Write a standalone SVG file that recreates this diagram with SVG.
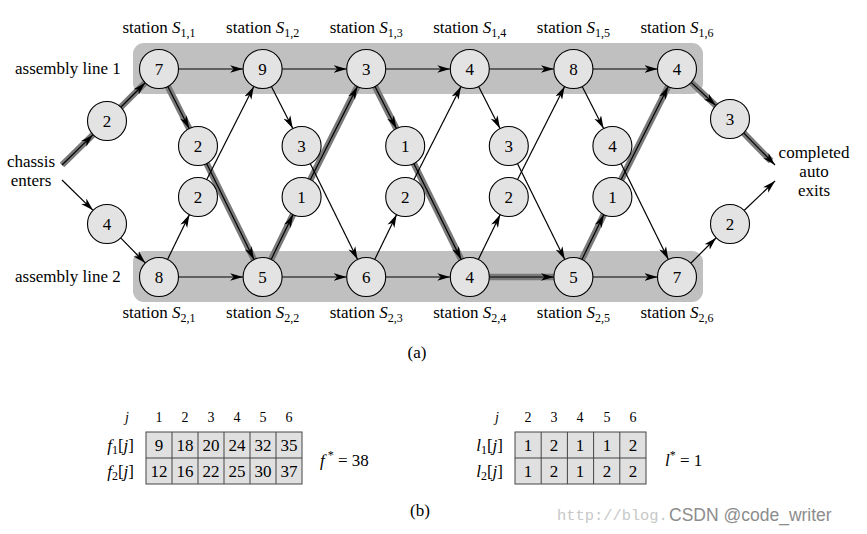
<svg xmlns="http://www.w3.org/2000/svg" width="867" height="534" viewBox="0 0 867 534" font-family="'Liberation Serif', 'Times New Roman', 'DejaVu Serif', serif">
<style>
text{font-family:'Liberation Serif','Times New Roman','DejaVu Serif',serif;fill:#000}
.lbl{font-size:17px}
.num{font-size:17px;text-anchor:middle}
.st{font-size:17px;text-anchor:middle}
.it{font-style:italic}
.band{fill:#c0c0c0}
.node circle{fill:#e3e3e3;stroke:#000;stroke-width:1.1}
.ar line{stroke:#000;stroke-width:1.2;marker-end:url(#ah)}
.hl{fill:none;stroke:#7a7a7a;stroke-width:6.5;stroke-linejoin:round}
.cell{fill:#e0e0e0;stroke:#444;stroke-width:1}
.hd{font-size:14px;text-anchor:middle}
</style>
<defs>
<marker id="ah" viewBox="-13 -4 13 8" markerWidth="13" markerHeight="8" refX="0" refY="0" orient="auto" markerUnits="userSpaceOnUse">
<path d="M0,0 L-13,-3.8 L-9.5,0 L-13,3.8 Z" fill="#000"/>
</marker>
</defs>
<rect width="867" height="534" fill="#fff"/>
<rect class="band" x="133" y="43" width="570" height="51" rx="11"/>
<rect class="band" x="133" y="251" width="570" height="51" rx="11"/>
<polyline class="hl" points="62,165 107,121 159,69 198,146 262.6,277 301.6,197 366.2,69 405.2,146 469.8,277 573.4,277 612.4,197 677,69 730,119 771,161"/>
<g id="connectors" class="ar">
<line x1="62" y1="165" x2="93.06" y2="134.63"/>
<line x1="62" y1="180" x2="93.06" y2="210.37"/>
<line x1="120.79" y1="107.21" x2="145.21" y2="82.79"/>
<line x1="120.66" y1="237.92" x2="145.34" y2="263.08"/>
<line x1="178.5" y1="69" x2="243.1" y2="69"/>
<line x1="282.1" y1="69" x2="346.7" y2="69"/>
<line x1="385.7" y1="69" x2="450.3" y2="69"/>
<line x1="489.3" y1="69" x2="553.9" y2="69"/>
<line x1="592.9" y1="69" x2="657.5" y2="69"/>
<line x1="178.5" y1="277" x2="243.1" y2="277"/>
<line x1="282.1" y1="277" x2="346.7" y2="277"/>
<line x1="385.7" y1="277" x2="450.3" y2="277"/>
<line x1="489.3" y1="277" x2="553.9" y2="277"/>
<line x1="592.9" y1="277" x2="657.5" y2="277"/>
<line x1="167.81" y1="86.4" x2="189.19" y2="128.6"/>
<line x1="206.62" y1="163.49" x2="253.98" y2="259.51"/>
<line x1="167.55" y1="259.47" x2="189.45" y2="214.53"/>
<line x1="206.79" y1="179.59" x2="253.81" y2="86.41"/>
<line x1="271.41" y1="86.4" x2="292.79" y2="128.6"/>
<line x1="310.22" y1="163.49" x2="357.58" y2="259.51"/>
<line x1="271.15" y1="259.47" x2="293.05" y2="214.53"/>
<line x1="310.39" y1="179.59" x2="357.41" y2="86.41"/>
<line x1="375.01" y1="86.4" x2="396.39" y2="128.6"/>
<line x1="413.82" y1="163.49" x2="461.18" y2="259.51"/>
<line x1="374.75" y1="259.47" x2="396.65" y2="214.53"/>
<line x1="413.99" y1="179.59" x2="461.01" y2="86.41"/>
<line x1="478.61" y1="86.4" x2="499.99" y2="128.6"/>
<line x1="517.42" y1="163.49" x2="564.78" y2="259.51"/>
<line x1="478.35" y1="259.47" x2="500.25" y2="214.53"/>
<line x1="517.59" y1="179.59" x2="564.61" y2="86.41"/>
<line x1="582.21" y1="86.4" x2="603.59" y2="128.6"/>
<line x1="621.02" y1="163.49" x2="668.38" y2="259.51"/>
<line x1="581.95" y1="259.47" x2="603.85" y2="214.53"/>
<line x1="621.19" y1="179.59" x2="668.21" y2="86.41"/>
<line x1="691.18" y1="82.38" x2="715.82" y2="105.62"/>
<line x1="743.64" y1="132.94" x2="775" y2="165"/>
<line x1="690.79" y1="263.21" x2="716.21" y2="237.79"/>
<line x1="744.1" y1="210.53" x2="775" y2="181"/>
</g>
<g id="e1" class="node"><circle cx="107" cy="121" r="19.5"/><text class="num" x="107" y="127">2</text></g>
<g id="e2" class="node"><circle cx="107" cy="224" r="19.5"/><text class="num" x="107" y="230">4</text></g>
<g id="s11" class="node"><circle cx="159" cy="69" r="19.5"/><text class="num" x="159" y="75">7</text></g>
<g id="s12" class="node"><circle cx="262.6" cy="69" r="19.5"/><text class="num" x="262.6" y="75">9</text></g>
<g id="s13" class="node"><circle cx="366.2" cy="69" r="19.5"/><text class="num" x="366.2" y="75">3</text></g>
<g id="s14" class="node"><circle cx="469.8" cy="69" r="19.5"/><text class="num" x="469.8" y="75">4</text></g>
<g id="s15" class="node"><circle cx="573.4" cy="69" r="19.5"/><text class="num" x="573.4" y="75">8</text></g>
<g id="s16" class="node"><circle cx="677" cy="69" r="19.5"/><text class="num" x="677" y="75">4</text></g>
<g id="s21" class="node"><circle cx="159" cy="277" r="19.5"/><text class="num" x="159" y="283">8</text></g>
<g id="s22" class="node"><circle cx="262.6" cy="277" r="19.5"/><text class="num" x="262.6" y="283">5</text></g>
<g id="s23" class="node"><circle cx="366.2" cy="277" r="19.5"/><text class="num" x="366.2" y="283">6</text></g>
<g id="s24" class="node"><circle cx="469.8" cy="277" r="19.5"/><text class="num" x="469.8" y="283">4</text></g>
<g id="s25" class="node"><circle cx="573.4" cy="277" r="19.5"/><text class="num" x="573.4" y="283">5</text></g>
<g id="s26" class="node"><circle cx="677" cy="277" r="19.5"/><text class="num" x="677" y="283">7</text></g>
<g id="t11" class="node"><circle cx="198" cy="146" r="19.5"/><text class="num" x="198" y="152">2</text></g>
<g id="t12" class="node"><circle cx="301.6" cy="146" r="19.5"/><text class="num" x="301.6" y="152">3</text></g>
<g id="t13" class="node"><circle cx="405.2" cy="146" r="19.5"/><text class="num" x="405.2" y="152">1</text></g>
<g id="t14" class="node"><circle cx="508.8" cy="146" r="19.5"/><text class="num" x="508.8" y="152">3</text></g>
<g id="t15" class="node"><circle cx="612.4" cy="146" r="19.5"/><text class="num" x="612.4" y="152">4</text></g>
<g id="t21" class="node"><circle cx="198" cy="197" r="19.5"/><text class="num" x="198" y="203">2</text></g>
<g id="t22" class="node"><circle cx="301.6" cy="197" r="19.5"/><text class="num" x="301.6" y="203">1</text></g>
<g id="t23" class="node"><circle cx="405.2" cy="197" r="19.5"/><text class="num" x="405.2" y="203">2</text></g>
<g id="t24" class="node"><circle cx="508.8" cy="197" r="19.5"/><text class="num" x="508.8" y="203">2</text></g>
<g id="t25" class="node"><circle cx="612.4" cy="197" r="19.5"/><text class="num" x="612.4" y="203">1</text></g>
<g id="x1" class="node"><circle cx="730" cy="119" r="19.5"/><text class="num" x="730" y="125">3</text></g>
<g id="x2" class="node"><circle cx="730" cy="224" r="19.5"/><text class="num" x="730" y="230">2</text></g>
<g id="labels">
<text class="st" x="159" y="33">station <tspan class="it">S</tspan><tspan font-size="12" dy="4">1,1</tspan></text>
<text class="st" x="262.6" y="33">station <tspan class="it">S</tspan><tspan font-size="12" dy="4">1,2</tspan></text>
<text class="st" x="366.2" y="33">station <tspan class="it">S</tspan><tspan font-size="12" dy="4">1,3</tspan></text>
<text class="st" x="469.8" y="33">station <tspan class="it">S</tspan><tspan font-size="12" dy="4">1,4</tspan></text>
<text class="st" x="573.4" y="33">station <tspan class="it">S</tspan><tspan font-size="12" dy="4">1,5</tspan></text>
<text class="st" x="677" y="33">station <tspan class="it">S</tspan><tspan font-size="12" dy="4">1,6</tspan></text>
<text class="st" x="159" y="318">station <tspan class="it">S</tspan><tspan font-size="12" dy="4">2,1</tspan></text>
<text class="st" x="262.6" y="318">station <tspan class="it">S</tspan><tspan font-size="12" dy="4">2,2</tspan></text>
<text class="st" x="366.2" y="318">station <tspan class="it">S</tspan><tspan font-size="12" dy="4">2,3</tspan></text>
<text class="st" x="469.8" y="318">station <tspan class="it">S</tspan><tspan font-size="12" dy="4">2,4</tspan></text>
<text class="st" x="573.4" y="318">station <tspan class="it">S</tspan><tspan font-size="12" dy="4">2,5</tspan></text>
<text class="st" x="677" y="318">station <tspan class="it">S</tspan><tspan font-size="12" dy="4">2,6</tspan></text>
<text class="lbl" x="15" y="74">assembly line 1</text>
<text class="lbl" x="15" y="282">assembly line 2</text>
<text class="st" x="31" y="167">chassis</text>
<text class="st" x="31" y="186">enters</text>
<text class="st" x="814" y="158">completed</text>
<text class="st" x="814" y="177">auto</text>
<text class="st" x="814" y="196">exits</text>
<text class="st" x="417" y="358">(a)</text>
<text class="st" x="420" y="516">(b)</text>
</g>
<g id="table-f">
<rect class="cell" x="146" y="432" width="156" height="52"/>
<line x1="146" y1="458" x2="302" y2="458" stroke="#444"/>
<line x1="172" y1="432" x2="172" y2="484" stroke="#444"/>
<line x1="198" y1="432" x2="198" y2="484" stroke="#444"/>
<line x1="224" y1="432" x2="224" y2="484" stroke="#444"/>
<line x1="250" y1="432" x2="250" y2="484" stroke="#444"/>
<line x1="276" y1="432" x2="276" y2="484" stroke="#444"/>
<text class="hd it" x="127" y="422">j</text>
<text class="hd" x="159" y="422">1</text><text class="hd" x="185" y="422">2</text><text class="hd" x="211" y="422">3</text><text class="hd" x="237" y="422">4</text><text class="hd" x="263" y="422">5</text><text class="hd" x="289" y="422">6</text>
<text class="lbl" x="134" y="451" text-anchor="end"><tspan class="it">f</tspan><tspan font-size="12" dy="3">1</tspan><tspan dy="-3">[</tspan><tspan class="it">j</tspan>]</text>
<text class="lbl" x="134" y="477" text-anchor="end"><tspan class="it">f</tspan><tspan font-size="12" dy="3">2</tspan><tspan dy="-3">[</tspan><tspan class="it">j</tspan>]</text>
<text class="num" x="159" y="451">9</text><text class="num" x="185" y="451">18</text><text class="num" x="211" y="451">20</text><text class="num" x="237" y="451">24</text><text class="num" x="263" y="451">32</text><text class="num" x="289" y="451">35</text>
<text class="num" x="159" y="477">12</text><text class="num" x="185" y="477">16</text><text class="num" x="211" y="477">22</text><text class="num" x="237" y="477">25</text><text class="num" x="263" y="477">30</text><text class="num" x="289" y="477">37</text>
<text class="lbl" x="320" y="466"><tspan class="it">f</tspan><tspan font-size="12" dy="-7"> *</tspan><tspan dy="7"> = 38</tspan></text>
</g>
<g id="table-l">
<rect class="cell" x="515" y="432" width="131" height="52"/>
<line x1="515" y1="458" x2="646" y2="458" stroke="#444"/>
<line x1="541.2" y1="432" x2="541.2" y2="484" stroke="#444"/>
<line x1="567.4" y1="432" x2="567.4" y2="484" stroke="#444"/>
<line x1="593.6" y1="432" x2="593.6" y2="484" stroke="#444"/>
<line x1="619.8" y1="432" x2="619.8" y2="484" stroke="#444"/>
<text class="hd it" x="497" y="422">j</text>
<text class="hd" x="528" y="422">2</text><text class="hd" x="554" y="422">3</text><text class="hd" x="580" y="422">4</text><text class="hd" x="607" y="422">5</text><text class="hd" x="633" y="422">6</text>
<text class="lbl" x="503" y="451" text-anchor="end"><tspan class="it">l</tspan><tspan font-size="12" dy="3">1</tspan><tspan dy="-3">[</tspan><tspan class="it">j</tspan>]</text>
<text class="lbl" x="503" y="477" text-anchor="end"><tspan class="it">l</tspan><tspan font-size="12" dy="3">2</tspan><tspan dy="-3">[</tspan><tspan class="it">j</tspan>]</text>
<text class="num" x="528" y="451">1</text><text class="num" x="554" y="451">2</text><text class="num" x="580" y="451">1</text><text class="num" x="607" y="451">1</text><text class="num" x="633" y="451">2</text>
<text class="num" x="528" y="477">1</text><text class="num" x="554" y="477">2</text><text class="num" x="580" y="477">1</text><text class="num" x="607" y="477">2</text><text class="num" x="633" y="477">2</text>
<text class="lbl" x="665" y="466"><tspan class="it">l</tspan><tspan font-size="12" dy="-7">*</tspan><tspan dy="7"> = 1</tspan></text>
</g>
<g id="watermark">
<text x="557" y="520" style="font-family:'Liberation Mono',monospace;font-size:15.4px;fill:#c8c8c8">http://blog.</text>
<text x="669" y="521" style="font-family:'Liberation Sans',Arial,sans-serif;font-size:17.5px;fill:#8c8c8c">CSDN @code_writer</text>
</g>
</svg>
